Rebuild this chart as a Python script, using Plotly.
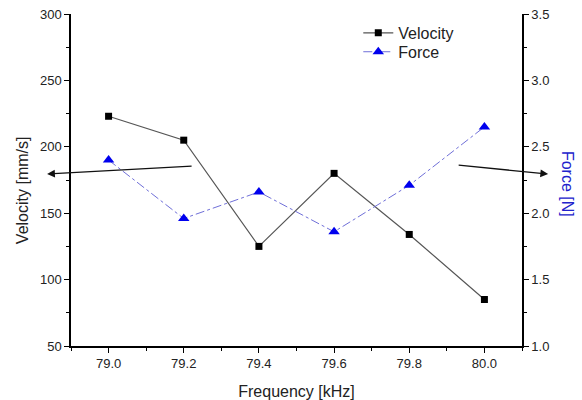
import plotly.graph_objects as go

frequency = [79.0, 79.2, 79.4, 79.6, 79.8, 80.0]
velocity = [223, 205, 125, 180, 134, 85]
force = [2.40, 1.96, 2.16, 1.86, 2.21, 2.65]

x_ticks = [79.0, 79.2, 79.4, 79.6, 79.8, 80.0]
v_ticks = [50, 100, 150, 200, 250, 300]
f_ticks = [1.0, 1.5, 2.0, 2.5, 3.0, 3.5]

FONT = "Liberation Sans, Arial, sans-serif"

fig = go.Figure()
fig.add_trace(go.Scatter(
    x=frequency, y=velocity, name="Velocity", mode="lines+markers",
    line=dict(color="#555555", width=1.2),
    marker=dict(symbol="square", size=7, color="black"),
    yaxis="y", legend="legend"))
fig.add_trace(go.Scatter(
    x=frequency, y=force, name="Force", mode="lines+markers",
    line=dict(color="#6f6fd8", width=1, dash="dashdot"),
    marker=dict(symbol="triangle-up", size=10, color="#0000ee"),
    yaxis="y2", legend="legend2"))

axis_common = dict(showgrid=False, zeroline=False, showline=True, linecolor="black",
                   linewidth=1.5, ticks="outside", ticklen=5, tickwidth=1.3,
                   tickcolor="black", tickfont=dict(size=13, color="#222", family=FONT))

leg_common = dict(xanchor="left", yanchor="middle", bgcolor="rgba(0,0,0,0)",
                  font=dict(size=16, color="#222", family=FONT), itemwidth=30,
                  borderwidth=0)

fig.update_layout(
    width=582, height=400,
    margin=dict(l=71, r=60, t=14, b=54),
    paper_bgcolor="white", plot_bgcolor="white",
    font=dict(family=FONT, color="#222"),
    showlegend=True,
    legend=dict(x=0.637, y=0.943, **leg_common),
    legend2=dict(x=0.637, y=0.886, **leg_common),
    xaxis=dict(range=[78.9, 80.1], tickvals=x_ticks, tickformat=".1f",
               minor=dict(dtick=0.1, tick0=78.9, ticks="outside", ticklen=3,
                          tickcolor="black", tickwidth=1.2),
               title=dict(text="Frequency [kHz]", font=dict(size=16, family=FONT, color="#222"),
                          standoff=15),
               automargin=False,
               **axis_common),
    yaxis=dict(range=[50, 300], tickvals=v_ticks, automargin=False,
               minor=dict(dtick=25, tick0=50, ticks="outside", ticklen=3,
                          tickcolor="black", tickwidth=1.2),
               **axis_common),
    yaxis2=dict(range=[1.0, 3.5], tickvals=f_ticks, tickformat=".1f",
                overlaying="y", side="right", automargin=False,
                minor=dict(dtick=0.25, tick0=1.0, ticks="outside", ticklen=3,
                           tickcolor="black", tickwidth=1.2),
                **axis_common),
)

fig.add_annotation(text="Velocity [mm/s]", xref="paper", yref="paper",
                   x=-0.106, y=0.47, xanchor="center", yanchor="middle",
                   textangle=-90, showarrow=False,
                   font=dict(size=16, family=FONT, color="#222"))
fig.add_annotation(text="Force [N]", xref="paper", yref="paper",
                   x=1.1, y=0.488, xanchor="center", yanchor="middle",
                   textangle=90, showarrow=False,
                   font=dict(size=16, family=FONT, color="#2222cc"))

# pointer arrows
fig.add_annotation(xref="paper", yref="paper", x=-0.053, y=0.518,
                   ax=146, ay=-8, axref="pixel", ayref="pixel",
                   showarrow=True, arrowhead=2, arrowsize=1.2, arrowwidth=1.3,
                   arrowcolor="#111", text="")
fig.add_annotation(xref="paper", yref="paper", x=1.058, y=0.518,
                   ax=-91, ay=-9, axref="pixel", ayref="pixel",
                   showarrow=True, arrowhead=2, arrowsize=1.2, arrowwidth=1.3,
                   arrowcolor="#111", text="")

fig.write_html("out.html", config={"displayModeBar": False},
               post_script="document.body.style.margin='0';")
